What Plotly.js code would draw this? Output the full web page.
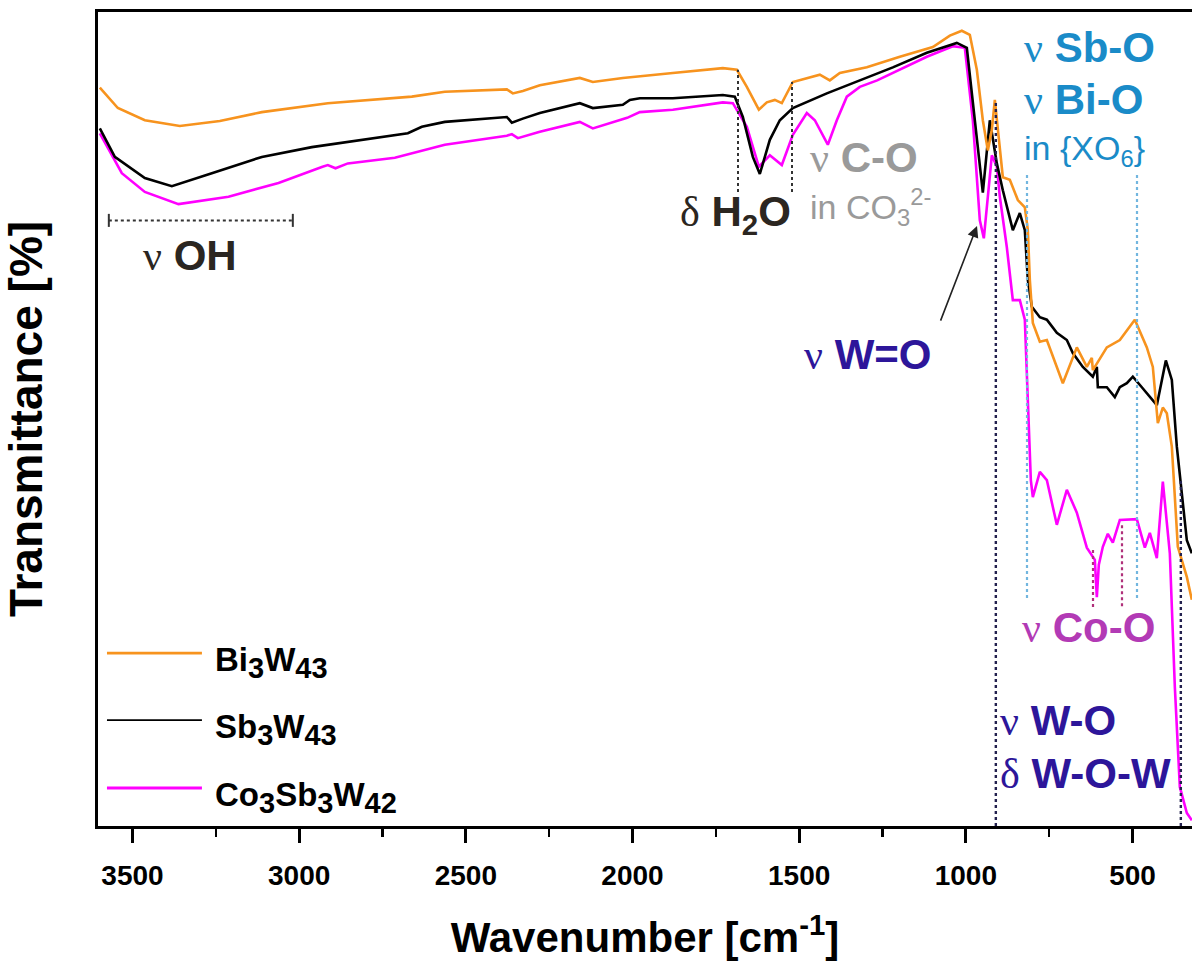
<!DOCTYPE html>
<html>
<head>
<meta charset="utf-8">
<script src="https://cdn.plot.ly/plotly-3.0.1.min.js"></script>
<style>html,body{margin:0;padding:0;background:#fff;overflow:hidden;}#chart{width:1192px;height:965px;}</style>
</head>
<body>
<div id="chart"></div>
<script>
// ---- data (wavenumber in cm^-1, transmittance in arbitrary %) ----
const seriesNames = ['Bi3W43', 'Sb3W43', 'Co3Sb3W42'];
const legendNames = ['Bi|3|W|43', 'Sb|3|W|43', 'Co|3|Sb|3|W|42'];

const bi3w43_wn = [3598,3544,3463,3358,3238,3112,2914,2662,2563,2377,2359,2329,2278,2197,2158,2119,2029,1879,1729,1687,1657,1621,1597,1573,1552,1519,1468,1438,1408,1378,1297,1198,1099,1048,1012,988,967,949,934,922,913,898,889,868,844,823,814,808,799,778,757,709,667,637,622,619,577,538,493,457,439,424,409,397,382,364,337,322];
const bi3w43_T = [90.7,88.2,86.7,86.0,86.6,87.7,88.8,89.6,90.2,90.5,90.0,90.3,91.0,91.6,91.9,91.4,91.9,92.5,93.1,92.9,90.8,88.0,88.9,89.2,88.8,91.4,92.0,92.3,91.6,92.5,93.2,94.5,95.7,97.1,97.7,97.2,92.9,86.7,83.0,85.5,89.2,82.7,79.7,79.4,76.9,76.0,73.2,67.1,61.8,59.5,59.7,54.4,58.8,56.4,57.5,56.0,58.8,59.7,62.2,58.8,56.4,49.5,51.4,50.7,46.6,34.3,30.6,27.8];

const sb3w43_wn = [3598,3553,3463,3382,3262,3112,2962,2812,2674,2632,2563,2377,2362,2329,2278,2158,2119,2029,2008,1978,1879,1729,1693,1669,1639,1618,1588,1558,1519,1417,1318,1219,1117,1027,997,967,949,928,907,889,859,838,823,814,802,778,757,727,697,679,649,619,607,604,577,553,538,517,499,472,448,427,400,382,367,337,322];
const sb3w43_T = [85.7,82.2,79.6,78.6,80.2,82.2,83.4,84.3,85.1,85.9,86.5,87.1,86.4,86.9,87.6,88.8,88.2,88.6,89.2,89.4,89.4,89.8,89.6,87.1,82.2,80.1,84.3,86.7,88.2,90.0,91.6,93.2,95.0,96.2,95.6,84.6,77.8,86.7,81.4,78.1,73.2,75.3,73.2,67.1,63.8,62.5,62.2,60.6,59.7,58.1,56.4,55.2,56.4,53.9,53.9,52.7,53.9,54.4,55.2,53.9,52.7,51.7,57.2,54.8,46.6,35.1,33.5];

const co3sb3w42_wn = [3598,3532,3463,3362,3212,3062,2930,2914,2891,2854,2713,2563,2377,2362,2344,2278,2158,2119,2016,1978,1879,1729,1699,1657,1621,1588,1552,1519,1477,1453,1414,1387,1357,1318,1266,1219,1117,1039,1003,979,958,946,922,907,898,877,859,838,823,814,805,799,778,757,727,697,667,637,613,607,601,589,574,559,538,487,463,448,427,409,388,373,358,337,322];
const co3sb3w42_T = [85.1,80.2,77.9,76.4,77.3,79.0,81.0,81.2,80.8,81.4,82.1,83.7,84.8,85.0,84.5,85.3,86.5,85.7,87.0,87.7,88.0,88.9,88.8,85.9,81.0,82.4,81.2,84.9,87.6,86.7,83.7,86.7,89.6,90.8,91.6,92.5,94.5,95.8,95.6,86.7,74.4,72.2,82.4,81.0,77.3,71.1,64.6,64.6,62.2,52.3,42.5,40.4,43.5,42.5,37.0,41.3,38.5,34.2,32.7,28.1,32.1,34.3,35.9,34.8,37.6,37.7,34.2,36.0,32.9,42.3,33.5,17.1,4.8,1.6,0.7];

const xTickVals = [3500,3000,2500,2000,1500,1000,500];
const xTickText = ['3500','3000','2500','2000','1500','1000','500'];
const xMinorTickVals = [3250,2750,2250,1750,1250,750];

// band markers (wavenumbers)
const h2oBand = [1683.5, 1521.5];
const ohBand = [3571, 3019];
const wBand = [910, 355];
const xo6Band = [816.5, 486.5];
const coBand = [618.5, 531.5];

// ---- styling ----
const colors = ['#f7931e', '#000000', '#ff00ff'];
const SANS = 'Liberation Sans, Arial, sans-serif';
const SERIF = 'font-family:Liberation Serif;font-weight:normal';
const cOH = '#2b2621', cCO = '#9a9a9a', cW = '#2d169a', cSb = '#1a8bc8', cCo = '#b23ab5';
const cNavy = '#23214f', cLB = '#72b6df', cCoLine = '#b0307a';

const traces = [
  {x: bi3w43_wn, y: bi3w43_T, name: seriesNames[0]},
  {x: sb3w43_wn, y: sb3w43_T, name: seriesNames[1]},
  {x: co3sb3w42_wn, y: co3sb3w42_T, name: seriesNames[2]}
].map((t, i) => Object.assign(t, {type: 'scatter', mode: 'lines', line: {color: colors[i], width: 2.6}, showlegend: false}));
traces.reverse();

function vline(x, y0, y1, color, w) {
  return {type: 'line', xref: 'x', yref: 'y', x0: x, x1: x, y0: y0, y1: y1, line: {color: color, width: w || 2, dash: 'dot'}};
}
const shapes = [
  vline(h2oBand[0], 77.9, 92.9, '#333', 2),
  vline(h2oBand[1], 77.9, 91.4, '#333', 2),
  vline(wBand[0], 0, 89.2, cNavy, 2.4),
  vline(wBand[1], 0, 42.5, cNavy, 2.4),
  vline(xo6Band[0], 28.0, 80.3, cLB, 2.2),
  vline(xo6Band[1], 28.0, 80.3, cLB, 2.2),
  vline(coBand[0], 26.9, 33.9, cCoLine, 2.2),
  vline(coBand[1], 27.0, 37.2, cCoLine, 2.2),
  {type: 'line', xref: 'x', yref: 'y', x0: ohBand[0], x1: ohBand[1], y0: 74.4, y1: 74.4, line: {color: '#333', width: 2, dash: 'dot'}},
  {type: 'line', xref: 'x', yref: 'y', x0: ohBand[0], x1: ohBand[0], y0: 73.6, y1: 75.2, line: {color: '#333', width: 2}},
  {type: 'line', xref: 'x', yref: 'y', x0: ohBand[1], x1: ohBand[1], y0: 73.6, y1: 75.2, line: {color: '#333', width: 2}}
];

// legend (manual, long sample lines)
const legY = [0.2125, 0.130, 0.0467];
function legText(s) {
  const p = s.split('|');
  let out = '';
  p.forEach((seg, k) => { out += (k % 2 === 0) ? seg : '<sub><span style="font-size:29px">' + seg + '</span></sub>'; });
  return '<b>' + out + '</b>';
}
legY.forEach((y, i) => {
  shapes.push({type: 'line', xref: 'paper', yref: 'paper', x0: 0.0082, x1: 0.095, y0: y, y1: y, line: {color: colors[i], width: i === 1 ? 1.8 : 2.8}});
});

function lab(x, y, text, color, size, anchor) {
  return {xref: 'x', yref: 'y', x: x, y: y, text: text, showarrow: false, xanchor: anchor || 'center', yanchor: 'middle',
    font: {family: SANS, size: size, color: color}};
}
const nu = '<span style="' + SERIF + '">ν</span>';
const delta = '<span style="' + SERIF + '">δ</span>';
const annotations = [
  lab(3327, 70.1, nu + ' <b>OH</b>', cOH, 42),
  lab(1692, 75.1, delta + ' <b>H<sub>2</sub>O</b>', cOH, 42),
  lab(1473, 82.1, nu + ' <b>C-O</b>', cCO, 42, 'left'),
  lab(1473, 76.0, 'in CO<sub>3</sub><sup>2-</sup>', cCO, 34, 'left'),
  lab(1293, 57.9, nu + ' <b>W=O</b>', cW, 42),
  lab(831, 95.7, nu + ' <b>Sb-O</b>', cSb, 42, 'left'),
  lab(831, 89.2, nu + ' <b>Bi-O</b>', cSb, 42, 'left'),
  lab(831, 83.0, 'in {XO<sub>6</sub>}', cSb, 34, 'left'),
  lab(838, 24.4, nu + ' <b>Co-O</b>', cCo, 42, 'left'),
  lab(904, 13.0, nu + ' <b>W-O</b>', cW, 42, 'left'),
  lab(904, 6.5, delta + ' <b>W-O-W</b>', cW, 42, 'left'),
  {xref: 'x', yref: 'y', axref: 'x', ayref: 'y', x: 966.5, y: 73.7, ax: 1077.5, ay: 61.9, text: '', showarrow: true,
   arrowhead: 2, arrowsize: 1.4, arrowwidth: 1.6, arrowcolor: '#222', standoff: 0}
];
legY.forEach((y, i) => {
  annotations.push({xref: 'paper', yref: 'paper', x: 0.105, y: y - 0.012, xanchor: 'left', yanchor: 'middle', showarrow: false,
    text: legText(legendNames[i]), font: {family: SANS, size: 33, color: '#000'}});
});

const layout = {
  width: 1192, height: 965,
  margin: {l: 98, r: 0, t: 12, b: 139},
  paper_bgcolor: '#fff', plot_bgcolor: '#fff',
  showlegend: false,
  xaxis: {
    range: [3603.5, 321.5], showgrid: false, zeroline: false,
    showline: true, linecolor: '#000', linewidth: 3, mirror: true,
    ticks: 'outside', ticklen: 14, tickwidth: 3, tickcolor: '#000',
    tickmode: 'array', tickvals: xTickVals, ticktext: xTickText.map(t => '<b>' + t + '</b>'), ticklabelstandoff: 8,
    tickfont: {family: SANS, size: 28, color: '#000'},
    minor: {ticks: 'outside', ticklen: 8, tickwidth: 2.5, tickcolor: '#000', tickmode: 'array', tickvals: xMinorTickVals, showgrid: false},
    title: {text: '<b>Wavenumber [cm<sup>-1</sup>]</b>', font: {family: SANS, size: 42, color: '#000'}, standoff: 34}
  },
  yaxis: {
    range: [0, 100], showgrid: false, zeroline: false,
    showline: true, linecolor: '#000', linewidth: 3, mirror: false,
    ticks: '', showticklabels: false,
    title: {text: '<b>Transmittance [%]</b>', font: {family: SANS, size: 46, color: '#000'}, standoff: 38}
  },
  shapes: shapes,
  annotations: annotations
};

Plotly.newPlot('chart', traces, layout, {displayModeBar: false, staticPlot: true});
</script>
</body>
</html>
